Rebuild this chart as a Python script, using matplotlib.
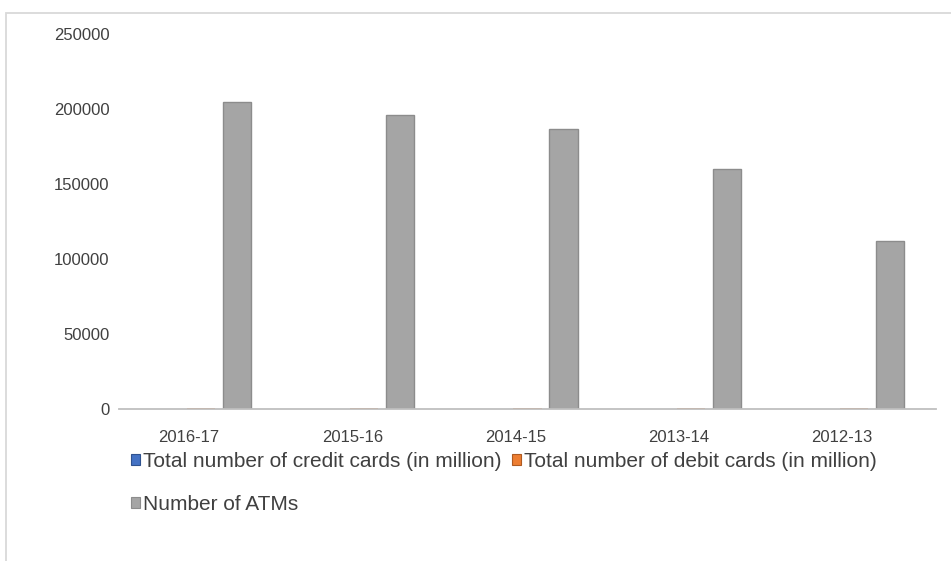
import numpy as np
import matplotlib.pyplot as plt
import matplotlib.transforms as mtransforms
from matplotlib.patches import Rectangle

years = ['2016-17', '2015-16', '2014-15', '2013-14', '2012-13']
credit_cards = [29.8, 24.5, 21.1, 19.2, 19.5]      # in million
debit_cards = [772, 662, 553, 394, 331]            # in million
atms = [204500, 195800, 186500, 159600, 111800]

plt.rcParams['font.family'] = ['Liberation Sans', 'DejaVu Sans']

fig = plt.figure(figsize=(9.51, 5.61), dpi=100)
ax = fig.add_axes([119.3/951, 1-408.7/561, 816.5/951, 375/561])

x = np.arange(len(years))
w = 0.173
off = 0.22
b1 = ax.bar(x - off, credit_cards, w, color='#4472C4', edgecolor='#2f528f', linewidth=0)
b2 = ax.bar(x, debit_cards, w, color='#ED7D31', edgecolor='#ae5a21', linewidth=0)
b3 = ax.bar(x + off, atms, w, color='#A5A5A5', edgecolor='#8c8c8c', linewidth=1)

ax.set_xlim(-0.5, 4.5)
ax.set_ylim(0, 250000)
ax.set_yticks(range(0, 250001, 50000))
ax.set_xticks(x)
ax.set_xticklabels(years)
for s in ['top', 'right', 'left']:
    ax.spines[s].set_visible(False)
ax.spines['bottom'].set_color('#bfbfbf')
ax.spines['bottom'].set_linewidth(1.3)
ax.tick_params(axis='both', length=0, labelsize=12, colors='#404040')
ax.tick_params(axis='y', pad=7)
ax.tick_params(axis='x', pad=15)
shift = mtransforms.ScaledTranslation(-12/100, 0, fig.dpi_scale_trans)
for lab in ax.get_xticklabels():
    lab.set_transform(lab.get_transform() + shift)

leg = fig.legend([b1, b3, b2],
                 ['Total number of credit cards (in million)', 'Number of ATMs',
                  'Total number of debit cards (in million)'],
                 ncol=2, loc='upper left', bbox_to_anchor=(131/951, 1-452/561),
                 frameon=False, fontsize=15, labelcolor='#404040',
                 handlelength=0.42, handleheight=0.42, handletextpad=0.15,
                 columnspacing=0.5, labelspacing=1.15, borderaxespad=0, borderpad=0)
for h in leg.legend_handles:
    h.set_linewidth(0.8)

# chart area border (cut off at right and bottom)
fig.patches.append(Rectangle((6/951, -0.5), 2, 1.5 - 12.7/561, transform=fig.transFigure,
                             fill=False, edgecolor='#d9d9d9', linewidth=1.3))

fig.savefig('out.png', dpi=100)
